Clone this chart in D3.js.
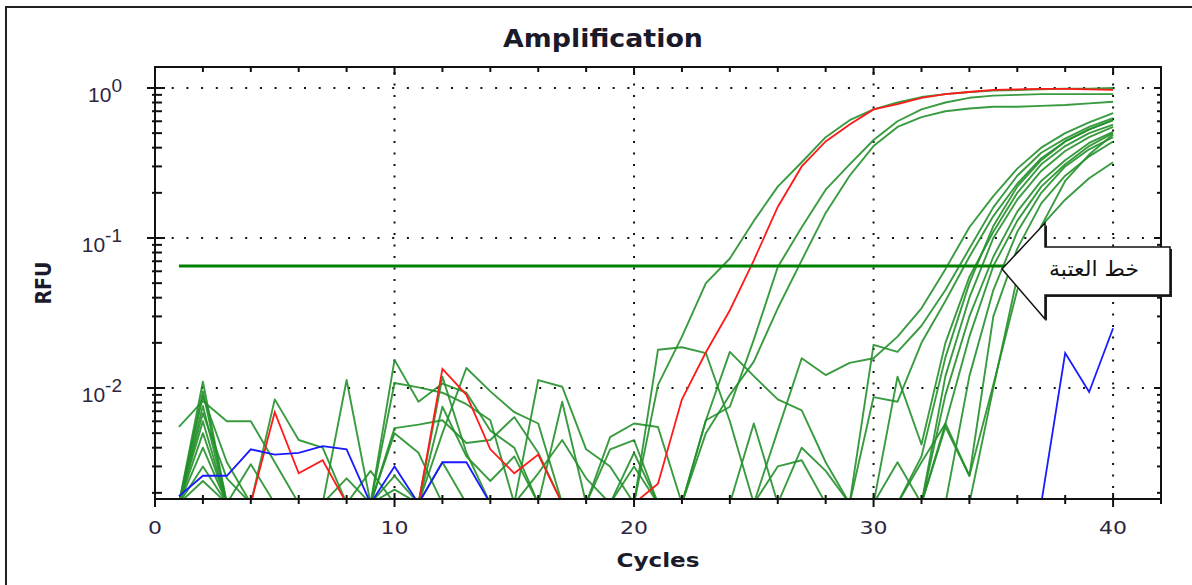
<!DOCTYPE html>
<html>
<head>
<meta charset="utf-8">
<script src="https://cdnjs.cloudflare.com/ajax/libs/d3/7.8.5/d3.min.js"></script>
<style>
  body { margin: 0; background: #fff; }
  svg { display: block; }
</style>
</head>
<body>
<script>
// cycle numbers on the x axis
var cycles = [1, 2, 3, 4, 5, 6, 7, 8, 9, 10, 11, 12, 13, 14, 15, 16, 17, 18, 19, 20,
  21, 22, 23, 24, 25, 26, 27, 28, 29, 30, 31, 32, 33, 34, 35, 36, 37, 38, 39, 40];

// RFU per cycle (0 = below the bottom of the log axis)
var redWell = [0, 0, 0, 0, 0.0069, 0.0027, 0.0033, 0, 0, 0,
  0, 0.0134, 0.009, 0.0039, 0.0027, 0.0036, 0, 0, 0, 0,
  0.0023, 0.0084, 0.0173, 0.033, 0.071, 0.161, 0.3, 0.44, 0.57, 0.72,
  0.78, 0.86, 0.91, 0.94, 0.97, 0.98, 0.985, 0.985, 0.98, 0.97];

var blueWell = [0.0019, 0.0026, 0.0026, 0.0039, 0.0036, 0.0037, 0.0041, 0.0039, 0, 0.003,
  0, 0.0032, 0.0032, 0, 0, 0, 0, 0, 0, 0,
  0, 0, 0, 0, 0, 0, 0, 0, 0, 0,
  0, 0, 0, 0, 0, 0, 0, 0.0171, 0.0094, 0.025];

var g1 = [0, 0.011, 0, 0, 0, 0, 0, 0, 0, 0.0154,
  0.0081, 0.0107, 0.0093, 0.0052, 0.004, 0, 0, 0, 0, 0,
  0.0105, 0.022, 0.05, 0.073, 0.13, 0.22, 0.32, 0.47, 0.61, 0.72,
  0.8, 0.87, 0.91, 0.94, 0.96, 0.97, 0.98, 0.99, 0.99, 1.0];
var g2 = [0, 0.0088, 0.0032, 0, 0, 0, 0, 0, 0, 0,
  0, 0.0032, 0, 0, 0, 0, 0, 0, 0, 0,
  0, 0, 0.0061, 0.0075, 0.021, 0.064, 0.118, 0.21, 0.31, 0.45,
  0.6, 0.72, 0.8, 0.86, 0.89, 0.9, 0.91, 0.91, 0.91, 0.91];
var g3 = [0, 0.006, 0, 0.0031, 0, 0, 0, 0, 0, 0,
  0, 0, 0, 0, 0, 0, 0, 0, 0, 0,
  0, 0, 0.005, 0.009, 0.015, 0.034, 0.071, 0.147, 0.26, 0.41,
  0.55, 0.64, 0.7, 0.73, 0.75, 0.75, 0.76, 0.77, 0.79, 0.81];
var l1 = [0.0055, 0.0082, 0.006, 0.006, 0.0032, 0, 0, 0, 0, 0,
  0, 0, 0, 0, 0, 0, 0, 0, 0, 0,
  0, 0, 0, 0, 0, 0.0052, 0.0158, 0.0122, 0.0147, 0.0158,
  0.022, 0.034, 0.062, 0.118, 0.19, 0.29, 0.4, 0.5, 0.59, 0.68];
var l2 = [0, 0.0095, 0, 0, 0.0084, 0.0045, 0.004, 0, 0, 0,
  0, 0, 0, 0, 0, 0, 0, 0, 0, 0,
  0, 0, 0, 0, 0, 0, 0, 0, 0, 0.0194,
  0.0174, 0.026, 0.045, 0.085, 0.16, 0.26, 0.37, 0.46, 0.55, 0.63];
var l3 = [0, 0.0076, 0, 0, 0, 0, 0, 0.0113, 0, 0,
  0, 0, 0, 0, 0, 0, 0, 0, 0.0039, 0.0045,
  0, 0, 0, 0, 0, 0, 0, 0, 0, 0.0087,
  0.0081, 0.02, 0.038, 0.075, 0.14, 0.23, 0.34, 0.44, 0.53, 0.61];
var l4 = [0, 0.0068, 0.0025, 0, 0, 0, 0, 0, 0, 0.0108,
  0.0101, 0.0093, 0.0078, 0.0061, 0, 0, 0, 0, 0, 0,
  0, 0, 0, 0, 0, 0, 0, 0, 0, 0,
  0.0119, 0.0042, 0.02, 0.055, 0.11, 0.2, 0.31, 0.41, 0.5, 0.57];
var l5 = [0, 0.005, 0, 0, 0, 0, 0, 0.0025, 0, 0,
  0, 0, 0, 0, 0, 0, 0.0081, 0, 0, 0,
  0, 0, 0, 0, 0, 0, 0.004, 0.0028, 0, 0,
  0.0032, 0, 0.012, 0.04, 0.1, 0.18, 0.28, 0.38, 0.47, 0.55];
var l6 = [0, 0.004, 0, 0, 0, 0, 0, 0, 0.0028, 0,
  0, 0, 0, 0, 0, 0.0027, 0.0045, 0.0025, 0, 0,
  0.018, 0.0187, 0.0171, 0.006, 0, 0, 0, 0, 0, 0,
  0, 0, 0.009, 0.03, 0.075, 0.15, 0.24, 0.33, 0.43, 0.51];
var l7 = [0, 0.003, 0, 0, 0, 0, 0, 0, 0, 0,
  0, 0, 0, 0, 0, 0, 0, 0, 0.0047, 0.0058,
  0.0055, 0, 0, 0, 0, 0, 0, 0, 0, 0,
  0, 0.0032, 0.0058, 0.022, 0.065, 0.13, 0.22, 0.31, 0.41, 0.5];
var l8 = [0, 0.0024, 0, 0, 0, 0, 0, 0, 0, 0.0054,
  0.0057, 0.0061, 0.0043, 0.0045, 0.0064, 0.0037, 0, 0, 0, 0,
  0, 0, 0.0061, 0.0174, 0.012, 0.0084, 0.0071, 0.0032, 0, 0,
  0, 0, 0, 0.012, 0.045, 0.11, 0.2, 0.3, 0.39, 0.47];
var l9 = [0, 0, 0, 0, 0, 0, 0, 0, 0, 0.005,
  0.0037, 0, 0, 0, 0, 0.0113, 0.0102, 0.0039, 0.003, 0,
  0, 0, 0, 0, 0.0058, 0, 0, 0, 0, 0,
  0, 0, 0.0055, 0.0026, 0.03, 0.085, 0.17, 0.26, 0.35, 0.44];
var l10 = [0, 0, 0, 0, 0, 0, 0, 0, 0, 0.0026,
  0, 0.0119, 0.0037, 0, 0, 0, 0, 0, 0, 0.0037,
  0, 0, 0, 0, 0, 0, 0, 0, 0, 0,
  0, 0, 0.0058, 0.0026, 0.0105, 0.045, 0.12, 0.24, 0.36, 0.49];
var l11 = [0, 0, 0, 0, 0, 0, 0, 0, 0, 0.0021,
  0, 0.0075, 0.0035, 0.0024, 0.0035, 0, 0, 0, 0, 0.003,
  0, 0, 0, 0, 0, 0.003, 0.0033, 0, 0, 0,
  0, 0, 0, 0, 0.01, 0.055, 0.12, 0.18, 0.25, 0.32];
var l12 = [0, 0, 0, 0, 0, 0, 0, 0, 0, 0,
  0, 0.005, 0.0136, 0.0095, 0.0069, 0.0058, 0, 0, 0, 0,
  0, 0, 0, 0, 0, 0, 0, 0, 0, 0,
  0, 0.0035, 0.016, 0.05, 0.12, 0.22, 0.33, 0.44, 0.53, 0.61];

var greenWells = [g1, g2, g3, l1, l2, l3, l4, l5, l6, l7, l8, l9, l10, l11, l12];

var threshold = 0.065;

var xTickLabels = [0, 10, 20, 30, 40];
var yTickValues = [0.01, 0.1, 1];
var yTickExponents = ["-2", "-1", "0"];
var title = "Amplification";
var xTitle = "Cycles";
var yTitle = "RFU";
var calloutText = "خط العتبة";

var margin = { top: 67, right: 31, bottom: 86, left: 155 },
  W = 1192,
  H = 585;

var svg = d3
  .select("body")
  .append("svg")
  .attr("width", W)
  .attr("height", H);

var x = d3.scaleLinear().domain([0, 42]).range([margin.left, W - margin.right]);
var y = d3.scaleLog().domain([0.00182, 1.38]).range([H - margin.bottom, margin.top]);

var x0 = x.range()[0], x1 = x.range()[1], yb = y.range()[0], yt = y.range()[1];

// outer frame (runs off the picture on the right and bottom)
svg.append("rect")
  .attr("x", 6).attr("y", 7)
  .attr("width", 1220).attr("height", 620)
  .attr("fill", "none")
  .attr("stroke", "#222")
  .attr("stroke-width", 2);

// dotted grid
svg.selectAll("line.hgrid")
  .data(yTickValues)
  .enter()
  .append("line")
  .attr("class", "hgrid")
  .attr("x1", x0 + 2).attr("x2", x1)
  .attr("y1", function (d) { return y(d); })
  .attr("y2", function (d) { return y(d); })
  .attr("stroke", "#111")
  .attr("stroke-width", 2)
  .attr("stroke-dasharray", "2,12.7");

svg.selectAll("line.vgrid")
  .data(xTickLabels.slice(1))
  .enter()
  .append("line")
  .attr("class", "vgrid")
  .attr("x1", function (d) { return x(d); })
  .attr("x2", function (d) { return x(d); })
  .attr("y1", yt + 5).attr("y2", yb)
  .attr("stroke", "#111")
  .attr("stroke-width", 2)
  .attr("stroke-dasharray", "2,9.5");

// curves, clipped to the plot area
svg.append("clipPath")
  .attr("id", "plotclip")
  .append("rect")
  .attr("x", x0).attr("y", yt)
  .attr("width", x1 - x0).attr("height", yb - yt);

var line = d3.line()
  .x(function (d, i) { return x(cycles[i]); })
  .y(function (d) { return y(d > 0 ? d : 0.0017); });

var curves = svg.append("g").attr("clip-path", "url(#plotclip)");

curves.selectAll("path.green")
  .data(greenWells)
  .enter()
  .append("path")
  .attr("class", "green")
  .attr("d", line)
  .attr("fill", "none")
  .attr("stroke", "#24902a")
  .attr("stroke-width", 1.9)
  .attr("stroke-opacity", 0.9)
  .attr("stroke-linejoin", "round");

curves.append("path")
  .attr("d", line(redWell))
  .attr("fill", "none")
  .attr("stroke", "#ff1a1a")
  .attr("stroke-width", 1.8);

curves.append("path")
  .attr("d", line(blueWell))
  .attr("fill", "none")
  .attr("stroke", "#1a1aff")
  .attr("stroke-width", 1.8);

// threshold line
svg.append("line")
  .attr("x1", x(1)).attr("x2", x(40))
  .attr("y1", y(threshold)).attr("y2", y(threshold))
  .attr("stroke", "#008000")
  .attr("stroke-width", 3);

// plot frame
svg.append("rect")
  .attr("x", x0).attr("y", yt)
  .attr("width", x1 - x0).attr("height", yb - yt)
  .attr("fill", "none")
  .attr("stroke", "#111")
  .attr("stroke-width", 2);

// x ticks (bottom: both sides, top: inward)
var xt = x.ticks(21);
svg.selectAll("line.xtb")
  .data(xt)
  .enter()
  .append("line")
  .attr("x1", function (d) { return x(d); })
  .attr("x2", function (d) { return x(d); })
  .attr("y1", function (d) { return d % 10 === 0 ? yb - 6 : yb - 4; })
  .attr("y2", function (d) { return d % 10 === 0 ? yb + 8 : yb + 5; })
  .attr("stroke", "#111")
  .attr("stroke-width", 2);

svg.selectAll("line.xtt")
  .data(xt)
  .enter()
  .append("line")
  .attr("x1", function (d) { return x(d); })
  .attr("x2", function (d) { return x(d); })
  .attr("y1", yt)
  .attr("y2", function (d) { return d % 10 === 0 ? yt + 8 : yt + 5; })
  .attr("stroke", "#111")
  .attr("stroke-width", 2);

// y ticks (left: both sides, right: inward)
var ytAll = y.ticks();
function isMajor(d) {
  return Math.abs(Math.log10(d) - Math.round(Math.log10(d))) < 1e-6;
}
svg.selectAll("line.ytl")
  .data(ytAll)
  .enter()
  .append("line")
  .attr("x1", function (d) { return isMajor(d) ? x0 - 8 : x0 - 3; })
  .attr("x2", function (d) { return isMajor(d) ? x0 + 10 : x0 + 7; })
  .attr("y1", function (d) { return y(d); })
  .attr("y2", function (d) { return y(d); })
  .attr("stroke", "#111")
  .attr("stroke-width", 2);

svg.selectAll("line.ytr")
  .data(ytAll)
  .enter()
  .append("line")
  .attr("x1", function (d) { return isMajor(d) ? x1 - 7 : x1 - 4; })
  .attr("x2", x1)
  .attr("y1", function (d) { return y(d); })
  .attr("y2", function (d) { return y(d); })
  .attr("stroke", "#111")
  .attr("stroke-width", 2);

// tick labels
svg.selectAll("text.xl")
  .data(xTickLabels)
  .enter()
  .append("text")
  .attr("x", function (d) { return x(d); })
  .attr("y", 534)
  .attr("text-anchor", "middle")
  .attr("font-family", "DejaVu Sans, sans-serif")
  .attr("font-size", "17.5px")
  .attr("fill", "#2d2640")
  .attr("textLength", function (d) { return d === 0 ? 14 : 28; })
  .attr("lengthAdjust", "spacingAndGlyphs")
  .text(function (d) { return d; });

var yl = svg.selectAll("text.yl")
  .data(yTickValues)
  .enter()
  .append("text")
  .attr("x", 122)
  .attr("y", function (d) { return y(d) + 14; })
  .attr("text-anchor", "end")
  .attr("font-family", "Liberation Sans, Arial, sans-serif")
  .attr("font-size", "21px")
  .attr("fill", "#2d2640");
yl.append("tspan").text("10");
yl.append("tspan")
  .attr("dy", -10)
  .attr("font-size", "19px")
  .text(function (d, i) { return yTickExponents[i]; });

// titles
svg.append("text")
  .attr("x", 603).attr("y", 47)
  .attr("text-anchor", "middle")
  .attr("font-family", "DejaVu Sans, sans-serif")
  .attr("font-weight", "bold")
  .attr("font-size", "24px")
  .attr("fill", "#1a1a2a")
  .attr("textLength", 200)
  .attr("lengthAdjust", "spacingAndGlyphs")
  .text(title);

svg.append("text")
  .attr("x", 658).attr("y", 567)
  .attr("text-anchor", "middle")
  .attr("font-family", "DejaVu Sans, sans-serif")
  .attr("font-weight", "bold")
  .attr("font-size", "20px")
  .attr("fill", "#1a1a2a")
  .attr("textLength", 83)
  .attr("lengthAdjust", "spacingAndGlyphs")
  .text(xTitle);

svg.append("text")
  .attr("transform", "translate(51,283) rotate(-90)")
  .attr("text-anchor", "middle")
  .attr("font-family", "DejaVu Sans, sans-serif")
  .attr("font-weight", "bold")
  .attr("font-size", "22px")
  .attr("fill", "#1a1a2a")
  .attr("textLength", 43)
  .attr("lengthAdjust", "spacingAndGlyphs")
  .text(yTitle);

// callout arrow pointing at the threshold line
var tipX = 1002, tipY = y(threshold) + 3;
var arrowPts = [
  [tipX, tipY], [tipX + 43, tipY - 46], [tipX + 43, tipY - 22],
  [tipX + 168, tipY - 22], [tipX + 168, tipY + 26], [tipX + 43, tipY + 26],
  [tipX + 43, tipY + 50]
];
svg.append("polygon")
  .attr("points", arrowPts.map(function (p) { return (p[0] + 2) + "," + (p[1] + 2); }).join(" "))
  .attr("fill", "#222");
svg.append("polygon")
  .attr("points", arrowPts.map(function (p) { return p.join(","); }).join(" "))
  .attr("fill", "#fff")
  .attr("stroke", "#111")
  .attr("stroke-width", 1.5);

svg.append("text")
  .attr("x", 1094).attr("y", tipY + 7)
  .attr("text-anchor", "middle")
  .attr("font-family", "DejaVu Sans, serif")
  .attr("font-size", "21px")
  .attr("fill", "#111")
  .attr("textLength", 90)
  .attr("lengthAdjust", "spacingAndGlyphs")
  .text(calloutText);
</script>
</body>
</html>
